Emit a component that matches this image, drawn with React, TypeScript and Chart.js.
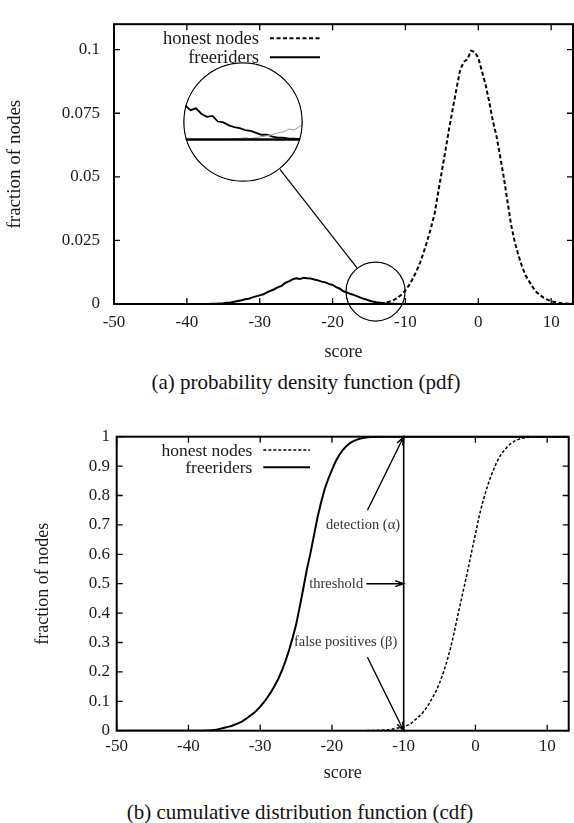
import { useEffect, useRef } from 'react';
import { Chart, registerables } from 'chart.js';

Chart.register(...registerables);

// ---------------- data ----------------
const scores = [
  -50, -45, -40, -38,
  -37.5, -37, -36.5, -36, -35.5, -35, -34.5, -34, -33.5, -33,
  -32.5, -32, -31.5, -31, -30.5, -30, -29.5, -29, -28.5, -28,
  -27.5, -27, -26.5, -26, -25.5, -25, -24.5, -24, -23.5, -23,
  -22.5, -22, -21.5, -21, -20.5, -20, -19.5, -19, -18.5, -18,
  -17.5, -17, -16.5, -16, -15.5, -15, -14.5, -14, -13.5, -13,
  -12.5, -12, -11.5, -11, -10.5, -10, -9.5, -9, -8.5, -8,
  -7.5, -7, -6.5, -6, -5.5, -5, -4.5, -4, -3.5, -3,
  -2.5, -2, -1.5, -1, -0.5, 0, 0.5, 1, 1.5, 2,
  2.5, 3, 3.5, 4, 4.5, 5, 5.5, 6, 6.5, 7,
  7.5, 8, 8.5, 9, 9.5, 10, 10.5, 11, 11.5, 12,
  12.5, 13,
];

const honestPdf = [
  0, 0, 0, 0,
  0, 0, 0, 0, 0, 0, 0, 0, 0, 0,
  0, 0, 0, 0, 0, 0, 0, 0, 0, 0,
  0, 0, 0, 0, 0, 0, 0, 0, 0, 0,
  0, 0, 0, 0, 0, 0, 0, 0, 0, 0,
  0, 0, 0, 0, 0, 0, 0.0001, 0.0001, 0.0002, 0.0004,
  0.0007, 0.0011, 0.0017, 0.0026, 0.0038, 0.0054, 0.0074, 0.0099, 0.0128, 0.0162,
  0.0203, 0.0248, 0.0298, 0.0355, 0.044, 0.0522, 0.0605, 0.069, 0.0768, 0.0845,
  0.0918, 0.0952, 0.0962, 0.0996, 0.0991, 0.0968, 0.0915, 0.0862, 0.0795, 0.072,
  0.066, 0.058, 0.0498, 0.0405, 0.0312, 0.0245, 0.0192, 0.0148, 0.0112, 0.0088,
  0.0065, 0.0046, 0.0034, 0.0024, 0.0017, 0.0011, 0.0008, 0.0005, 0.0003, 0.0002,
  0.0001, 0.0001,
];

const freeriderPdf = [
  0, 0, 0, 0,
  0, 0, 0.0001, 0.0001, 0.0002, 0.0003, 0.0005, 0.0006, 0.0009, 0.0012,
  0.0015, 0.0019, 0.0021, 0.0026, 0.003, 0.0034, 0.0038, 0.0046, 0.0052, 0.0058,
  0.0066, 0.0071, 0.0083, 0.0089, 0.0097, 0.0101, 0.0098, 0.0103, 0.0101, 0.01,
  0.0096, 0.0093, 0.0088, 0.0085, 0.0079, 0.0075, 0.0066, 0.006, 0.005, 0.0045,
  0.0039, 0.0035, 0.0029, 0.0023, 0.0019, 0.0014, 0.001, 0.0007, 0.0005, 0.0003,
  0.0002, 0.0001, 0.0001, 0, 0, 0, 0, 0, 0, 0,
  0, 0, 0, 0, 0, 0, 0, 0, 0, 0,
  0, 0, 0, 0, 0, 0, 0, 0, 0, 0,
  0, 0, 0, 0, 0, 0, 0, 0, 0, 0,
  0, 0, 0, 0, 0, 0, 0, 0, 0, 0,
  0, 0,
];

const honestCdf = [
  0, 0, 0, 0,
  0, 0, 0, 0, 0, 0, 0, 0, 0, 0,
  0, 0, 0, 0, 0, 0, 0, 0, 0, 0,
  0, 0, 0, 0, 0, 0, 0, 0, 0, 0,
  0, 0, 0, 0, 0, 0, 0, 0, 0, 0,
  0, 0, 0, 0, 0, 0.0005, 0.001, 0.001, 0.0015, 0.002,
  0.003, 0.004, 0.006, 0.008, 0.01, 0.013, 0.018, 0.024, 0.035, 0.045,
  0.057, 0.072, 0.09, 0.112, 0.134, 0.162, 0.195, 0.234, 0.278, 0.33,
  0.388, 0.443, 0.497, 0.553, 0.612, 0.668, 0.727, 0.776, 0.818, 0.855,
  0.887, 0.915, 0.937, 0.953, 0.967, 0.978, 0.986, 0.991, 0.995, 0.997,
  0.998, 0.999, 1, 1, 1, 1, 1, 1, 1, 1,
  1, 1,
];

const freeriderCdf = [
  0, 0, 0, 0,
  0.001, 0.001, 0.002, 0.004, 0.007, 0.01, 0.013, 0.016, 0.021, 0.026,
  0.032, 0.04, 0.049, 0.058, 0.069, 0.082, 0.096, 0.113, 0.131, 0.152,
  0.175, 0.203, 0.235, 0.272, 0.314, 0.36, 0.42, 0.483, 0.548, 0.603,
  0.665, 0.727, 0.778, 0.823, 0.857, 0.887, 0.915, 0.937, 0.954, 0.968,
  0.978, 0.985, 0.99, 0.994, 0.996, 0.998, 0.999, 0.999, 1, 1,
  1, 1, 1, 1, 1, 1, 1, 1, 1, 1,
  1, 1, 1, 1, 1, 1, 1, 1, 1, 1,
  1, 1, 1, 1, 1, 1, 1, 1, 1, 1,
  1, 1, 1, 1, 1, 1, 1, 1, 1, 1,
  1, 1, 1, 1, 1, 1, 1, 1, 1, 1,
  1, 1,
];

// magnified detail (inset)
const zoomScores = [
  -17.25, -17, -16.75, -16.5, -16.25, -16, -15.75, -15.5, -15.25, -15,
  -14.75, -14.5, -14.25, -14, -13.75, -13.5, -13.25, -13, -12.75, -12.5,
  -12.25, -12, -11.75, -11.5, -11.25,
];
const zoomFreerider = [
  0.0038, 0.0036, 0.0031, 0.0033, 0.0027, 0.0024, 0.0025, 0.0019, 0.0018, 0.0015,
  0.0013, 0.0012, 0.001, 0.0009, 0.0007, 0.0005, 0.0005, 0.0003, 0.0002, 0.0002,
  0.0001, 0.0001, 0, 0, 0,
];
const zoomHonest = [
  0, 0, 0, 0, 0, 0, 0, 0, 0, 0,
  0.0001, 0.0001, 0.0002, 0.0001, 0.0002, 0.0003, 0.0004, 0.0005, 0.0007, 0.0008,
  0.0011, 0.001, 0.0014, 0.0016, 0.0017,
];

const scoreTicks = [-50, -40, -30, -20, -10, 0, 10];
const scoreTickLabels = ['-50', '-40', '-30', '-20', '-10', '0', '10'];
const pdfTicks = [0, 0.025, 0.05, 0.075, 0.1];
const pdfTickLabels = ['0', '0.025', '0.05', '0.075', '0.1'];
const cdfTicks = [0, 0.1, 0.2, 0.3, 0.4, 0.5, 0.6, 0.7, 0.8, 0.9, 1];
const cdfTickLabels = ['0', '0.1', '0.2', '0.3', '0.4', '0.5', '0.6', '0.7', '0.8', '0.9', '1'];

const seriesNames = ['honest nodes', 'freeriders'];

// cdf annotations (data coordinates)
const THRESHOLD = -10;
const noteTexts = ['detection (\u03b1)', 'threshold', 'false positives (\u03b2)'];
const noteTextX = [-10.5, -15.65, -10.9];
const noteTextY = [0.7, 0.5, 0.3];
const arrowFromX = [-15.05, -15.2, -15.05];
const arrowFromY = [0.75, 0.5, 0.25];
const arrowToX = [-10, -10, -10];
const arrowToY = [1, 0.5, 0];

// ---------------- layout / style ----------------
const FAMILY = '"Liberation Serif", "Times New Roman", serif';
const TXT = '#1a1a1a';
const INSET = { left: 183, top: 62, size: 120 };
const ZOOM_AT = { x: -14.1, y: 0.0049, r: 29.5 };

const pts = (xs: number[], ys: number[]) => xs.map((x, i) => ({ x, y: ys[i] }));
const labelFor = (vals: number[], labels: string[]) => (v: any) => {
  const i = vals.indexOf(Number(v));
  return i >= 0 ? labels[i] : '';
};

const framePlugin = {
  id: 'frame',
  afterDatasetsDraw(chart: any, _a: any, o: any) {
    const { ctx, chartArea: a, scales } = chart;
    ctx.save();
    ctx.strokeStyle = '#000';
    ctx.setLineDash([]);
    ctx.lineWidth = 1.3;
    ctx.beginPath();
    for (const t of scales.x.ticks) {
      const px = scales.x.getPixelForValue(t.value);
      ctx.moveTo(px, a.bottom);
      ctx.lineTo(px, a.bottom - o.tickLen);
      ctx.moveTo(px, a.top);
      ctx.lineTo(px, a.top + o.tickLen);
    }
    for (const t of scales.y.ticks) {
      const py = scales.y.getPixelForValue(t.value);
      ctx.moveTo(a.left, py);
      ctx.lineTo(a.left + o.tickLen, py);
      ctx.moveTo(a.right, py);
      ctx.lineTo(a.right - o.tickLen, py);
    }
    ctx.stroke();
    ctx.lineWidth = o.borderWidth;
    ctx.strokeRect(a.left, a.top, a.right - a.left, a.bottom - a.top);
    ctx.restore();
  },
};

const keyPlugin = {
  id: 'key',
  afterDraw(chart: any, _a: any, o: any) {
    const { ctx, chartArea: a } = chart;
    ctx.save();
    chart.data.datasets.forEach((ds: any, i: number) => {
      const y = a.top + o.rows[i];
      ctx.font = `${o.size}px ${FAMILY}`;
      ctx.fillStyle = TXT;
      ctx.textAlign = 'right';
      ctx.textBaseline = 'middle';
      ctx.fillText(ds.label, a.left + o.textRight, y + 1);
      ctx.strokeStyle = ds.borderColor;
      ctx.lineWidth = ds.borderWidth;
      ctx.setLineDash(ds.borderDash || []);
      ctx.beginPath();
      ctx.moveTo(a.left + o.lineFrom, y);
      ctx.lineTo(a.left + o.lineTo, y);
      ctx.stroke();
    });
    ctx.restore();
  },
};

const magnifierPlugin = {
  id: 'magnifier',
  afterDraw(chart: any) {
    const { ctx, scales } = chart;
    const cx = scales.x.getPixelForValue(ZOOM_AT.x);
    const cy = scales.y.getPixelForValue(ZOOM_AT.y);
    const bx = INSET.left + INSET.size / 2;
    const by = INSET.top + INSET.size / 2;
    const br = INSET.size / 2;
    const dx = cx - bx;
    const dy = cy - by;
    const d = Math.hypot(dx, dy);
    const ux = dx / d;
    const uy = dy / d;
    ctx.save();
    ctx.strokeStyle = '#000';
    ctx.lineWidth = 1.2;
    ctx.setLineDash([]);
    ctx.beginPath();
    ctx.arc(cx, cy, ZOOM_AT.r, 0, Math.PI * 2);
    ctx.stroke();
    ctx.beginPath();
    ctx.moveTo(bx + ux * br, by + uy * br);
    ctx.lineTo(cx - ux * ZOOM_AT.r, cy - uy * ZOOM_AT.r);
    ctx.stroke();
    ctx.restore();
  },
};

const insetPlugin = {
  id: 'insetDeco',
  afterDatasetsDraw(chart: any) {
    const { ctx, scales, width, height } = chart;
    const y0 = scales.y.getPixelForValue(0);
    ctx.save();
    ctx.strokeStyle = '#000';
    ctx.lineWidth = 2.6;
    ctx.beginPath();
    ctx.moveTo(0, y0);
    ctx.lineTo(width, y0);
    ctx.stroke();
    ctx.lineWidth = 1.3;
    ctx.beginPath();
    ctx.arc(width / 2, height / 2, width / 2 - 0.8, 0, Math.PI * 2);
    ctx.stroke();
    ctx.restore();
  },
};

const notesPlugin = {
  id: 'notes',
  afterDatasetsDraw(chart: any) {
    const { ctx, scales } = chart;
    const X = (v: number) => scales.x.getPixelForValue(v);
    const Y = (v: number) => scales.y.getPixelForValue(v);
    ctx.save();
    ctx.strokeStyle = '#000';
    ctx.setLineDash([]);
    ctx.lineWidth = 1.6;
    ctx.beginPath();
    ctx.moveTo(X(THRESHOLD), Y(0));
    ctx.lineTo(X(THRESHOLD), Y(1));
    ctx.stroke();
    ctx.lineWidth = 1.4;
    for (let i = 0; i < noteTexts.length; i++) {
      const x1 = X(arrowFromX[i]);
      const y1 = Y(arrowFromY[i]);
      const x2 = X(arrowToX[i]);
      const y2 = Y(arrowToY[i]);
      const ang = Math.atan2(y2 - y1, x2 - x1);
      const L = 9;
      const s = 0.33;
      ctx.beginPath();
      ctx.moveTo(x1, y1);
      ctx.lineTo(x2, y2);
      ctx.moveTo(x2 - L * Math.cos(ang - s), y2 - L * Math.sin(ang - s));
      ctx.lineTo(x2, y2);
      ctx.lineTo(x2 - L * Math.cos(ang + s), y2 - L * Math.sin(ang + s));
      ctx.stroke();
      ctx.font = `14.5px ${FAMILY}`;
      ctx.fillStyle = '#333';
      ctx.textAlign = 'right';
      ctx.textBaseline = 'middle';
      ctx.fillText(noteTexts[i], X(noteTextX[i]), Y(noteTextY[i]));
    }
    ctx.restore();
  },
};

function makeScales(o: any) {
  return {
    x: {
      type: 'linear',
      min: -50,
      max: 13,
      afterBuildTicks: (s: any) => {
        s.ticks = scoreTicks.map((v) => ({ value: v }));
      },
      afterFit: (s: any) => {
        s.height = o.xHeight;
      },
      grid: { display: false, drawTicks: false },
      border: { display: false },
      ticks: {
        padding: o.xPad,
        color: TXT,
        font: { family: FAMILY, size: 17 },
        maxRotation: 0,
        autoSkip: false,
        callback: labelFor(scoreTicks, scoreTickLabels),
      },
      title: {
        display: true,
        text: 'score',
        color: TXT,
        font: { family: FAMILY, size: 18 },
        padding: { top: 0, bottom: o.xTitlePad },
      },
    },
    y: {
      type: 'linear',
      min: 0,
      max: o.yMax,
      afterBuildTicks: (s: any) => {
        s.ticks = o.yTicks.map((v: number) => ({ value: v }));
      },
      afterFit: (s: any) => {
        s.width = o.yWidth;
      },
      grid: { display: false, drawTicks: false },
      border: { display: false },
      ticks: {
        padding: o.yPad,
        color: TXT,
        font: { family: FAMILY, size: 17 },
        autoSkip: false,
        callback: labelFor(o.yTicks, o.yLabels),
      },
      title: {
        display: true,
        text: 'fraction of nodes',
        color: TXT,
        font: { family: FAMILY, size: o.yTitleSize },
        padding: { top: o.yTitlePad, bottom: 0 },
      },
    },
  };
}

function datasets(h: number[], f: number[], hw: number, dash: number[]) {
  return [
    {
      label: seriesNames[0],
      data: pts(scores, h),
      borderColor: '#000',
      borderWidth: hw,
      borderDash: dash,
      pointRadius: 0,
      tension: 0,
      fill: false,
    },
    {
      label: seriesNames[1],
      data: pts(scores, f),
      borderColor: '#000',
      borderWidth: 2,
      pointRadius: 0,
      tension: 0,
      fill: false,
    },
  ];
}

function topConfig(): any {
  return {
    type: 'line',
    data: { datasets: datasets(honestPdf, freeriderPdf, 2, [4, 2.5]) },
    options: {
      responsive: false,
      animation: false,
      devicePixelRatio: 1,
      layout: { padding: { left: 0, top: 5, right: 1, bottom: 0 } },
      plugins: {
        legend: { display: false },
        tooltip: { enabled: false },
        frame: { tickLen: 6, borderWidth: 2 },
        key: { size: 18.5, textRight: 145, lineFrom: 156, lineTo: 206, rows: [14, 33] },
      },
      scales: makeScales({
        xHeight: 61, xPad: 8.8, xTitlePad: 2.2,
        yMax: 0.11, yTicks: pdfTicks, yLabels: pdfTickLabels,
        yWidth: 114, yPad: 14, yTitleSize: 19, yTitlePad: 4,
      }),
    },
    plugins: [framePlugin, keyPlugin, magnifierPlugin],
  };
}

function insetConfig(): any {
  return {
    type: 'line',
    data: {
      datasets: [
        {
          data: pts(zoomScores, zoomHonest),
          borderColor: '#9a9a9a',
          borderWidth: 1,
          pointRadius: 0,
          tension: 0,
          fill: false,
        },
        {
          data: pts(zoomScores, zoomFreerider),
          borderColor: '#000',
          borderWidth: 1.8,
          pointRadius: 0,
          tension: 0,
          fill: false,
        },
      ],
    },
    options: {
      responsive: false,
      animation: false,
      devicePixelRatio: 1,
      layout: { padding: 0 },
      plugins: { legend: { display: false }, tooltip: { enabled: false } },
      scales: {
        x: { type: 'linear', min: -17.1, max: -11.6, display: false },
        y: { type: 'linear', min: -0.0045, max: 0.0082, display: false },
      },
    },
    plugins: [insetPlugin],
  };
}

function bottomConfig(): any {
  return {
    type: 'line',
    data: { datasets: datasets(honestCdf, freeriderCdf, 1.5, [3, 2]) },
    options: {
      responsive: false,
      animation: false,
      devicePixelRatio: 1,
      layout: { padding: { left: 0, top: 36.7, right: 5.3, bottom: 0 } },
      plugins: {
        legend: { display: false },
        tooltip: { enabled: false },
        frame: { tickLen: 6, borderWidth: 2 },
        key: { size: 17.5, textRight: 135.6, lineFrom: 146.6, lineTo: 193.3, rows: [13.3, 30.6] },
      },
      scales: makeScales({
        xHeight: 59.3, xPad: 6.1, xTitlePad: 6.2,
        yMax: 1, yTicks: cdfTicks, yLabels: cdfTickLabels,
        yWidth: 116.7, yPad: 6.7, yTitleSize: 18, yTitlePad: 32.2,
      }),
    },
    plugins: [framePlugin, keyPlugin, notesPlugin],
  };
}

const captionStyle = (cx: number, top: number): any => ({
  position: 'absolute',
  left: cx - 250,
  top,
  width: 500,
  textAlign: 'center',
  fontFamily: '"Liberation Serif", "Times New Roman", serif',
  fontSize: 21,
  lineHeight: '24px',
  color: '#111',
  whiteSpace: 'nowrap',
});

export default function App() {
  const topRef = useRef<HTMLCanvasElement>(null);
  const insetRef = useRef<HTMLCanvasElement>(null);
  const botRef = useRef<HTMLCanvasElement>(null);

  useEffect(() => {
    const charts = [
      new Chart(topRef.current as HTMLCanvasElement, topConfig()),
      new Chart(insetRef.current as HTMLCanvasElement, insetConfig()),
      new Chart(botRef.current as HTMLCanvasElement, bottomConfig()),
    ];
    return () => charts.forEach((c) => c.destroy());
  }, []);

  return (
    <div
      style={{
        position: 'absolute',
        left: 0,
        top: 0,
        width: 574,
        height: 823,
        overflow: 'hidden',
        background: '#fff',
      }}
    >
      <canvas ref={topRef} width={574} height={365} style={{ position: 'absolute', left: 0, top: 0 }} />
      <div
        style={{
          position: 'absolute',
          left: INSET.left,
          top: INSET.top,
          width: INSET.size,
          height: INSET.size,
          borderRadius: '50%',
          overflow: 'hidden',
          background: '#fff',
        }}
      >
        <canvas ref={insetRef} width={INSET.size} height={INSET.size} style={{ display: 'block' }} />
      </div>
      <canvas ref={botRef} width={574} height={390} style={{ position: 'absolute', left: 0, top: 400 }} />
      <div style={captionStyle(306, 370)}>(a) probability density function (pdf)</div>
      <div style={captionStyle(300, 800)}>(b) cumulative distribution function (cdf)</div>
    </div>
  );
}
